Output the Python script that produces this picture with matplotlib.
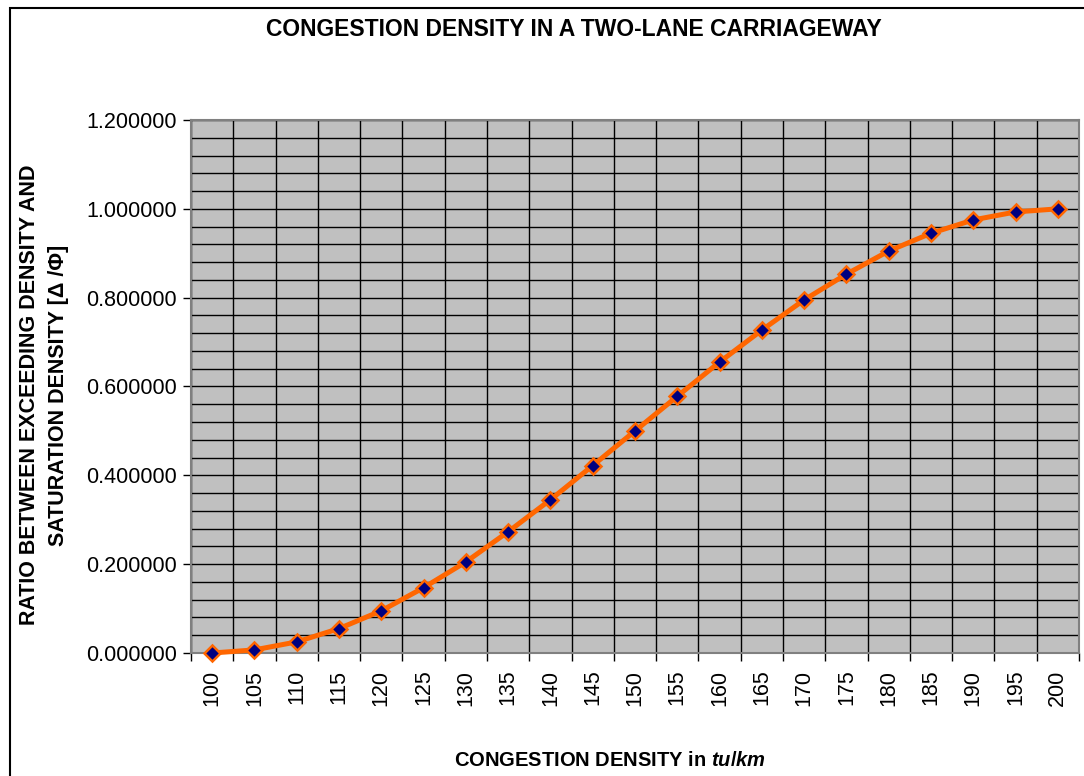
import numpy as np
import matplotlib
matplotlib.use('Agg')
import matplotlib.pyplot as plt
from matplotlib.patches import Rectangle
from matplotlib.ticker import MultipleLocator, FixedLocator

plt.rcParams['font.family'] = ['Liberation Sans', 'DejaVu Sans']
plt.rcParams['mathtext.fontset'] = 'custom'
plt.rcParams['mathtext.it'] = 'Liberation Sans:bold:italic'
plt.rcParams['mathtext.rm'] = 'Liberation Sans:bold'

# congestion density (tu/km) and ratio
density = [100, 105, 110, 115, 120, 125, 130, 135, 140, 145, 150,
           155, 160, 165, 170, 175, 180, 185, 190, 195, 200]
ratio = [0.000, 0.007, 0.025, 0.055, 0.095, 0.147, 0.205, 0.273, 0.345, 0.422, 0.500,
         0.578, 0.655, 0.727, 0.795, 0.853, 0.905, 0.945, 0.975, 0.993, 1.000]

fig = plt.figure(figsize=(10.84, 7.76), dpi=100)
ax = fig.add_axes([191/1084, 1-653/776, (1079-191)/1084, (653-120)/776])
ax.set_facecolor('#c0c0c0')

x = np.arange(len(density))
ax.plot(x, ratio, color='#ff6600', lw=3.6, marker='D', ms=8,
        markerfacecolor='#000080', markeredgecolor='#ff6600', mew=1.8, zorder=5,
        clip_on=False)

ax.set_xlim(-0.5, len(density) - 0.5)
ax.set_ylim(0, 1.2)

ax.xaxis.set_major_locator(FixedLocator(x))
ax.set_xticklabels([str(d) for d in density], rotation=90, fontsize=15.5)
ax.xaxis.set_minor_locator(FixedLocator(np.arange(-0.5, len(density), 1.0)))
ax.tick_params(axis='x', which='major', length=0, pad=12)
ax.tick_params(axis='x', which='minor', length=6, width=1, color='#000000')

ax.yaxis.set_major_locator(MultipleLocator(0.2))
ax.yaxis.set_minor_locator(MultipleLocator(0.04))
ax.yaxis.set_major_formatter(matplotlib.ticker.FormatStrFormatter('%.6f'))
ax.tick_params(axis='y', which='major', length=6, width=1, labelsize=15.5, pad=4)
ax.tick_params(axis='y', which='minor', length=0)

ax.grid(True, which='minor', axis='x', color='black', lw=1)
ax.grid(True, which='both', axis='y', color='black', lw=1)
ax.set_axisbelow(True)

for s in ax.spines.values():
    s.set_color('#808080')
    s.set_linewidth(1.5)

fig.text(574/1084, 1-30/776, 'CONGESTION DENSITY IN A TWO-LANE CARRIAGEWAY',
         ha='center', va='center', fontsize=16.5, fontweight='bold')
fig.text(610/1084, 1-761/776, r'CONGESTION DENSITY in $tu/km$',
         ha='center', va='center', fontsize=14.5, fontweight='bold')
fig.text(44/1084, 1-395/776, 'RATIO BETWEEN EXCEEDING DENSITY AND\nSATURATION DENSITY [Δ /Φ]',
         ha='center', va='center', rotation=90, fontsize=15.5, fontweight='bold',
         linespacing=1.45)

fig.patches.append(Rectangle((10/1084, -0.1), 1.2, 1-8/776+0.1, transform=fig.transFigure,
                             fill=False, edgecolor='black', lw=1.5))

fig.savefig('out.png', dpi=100)
